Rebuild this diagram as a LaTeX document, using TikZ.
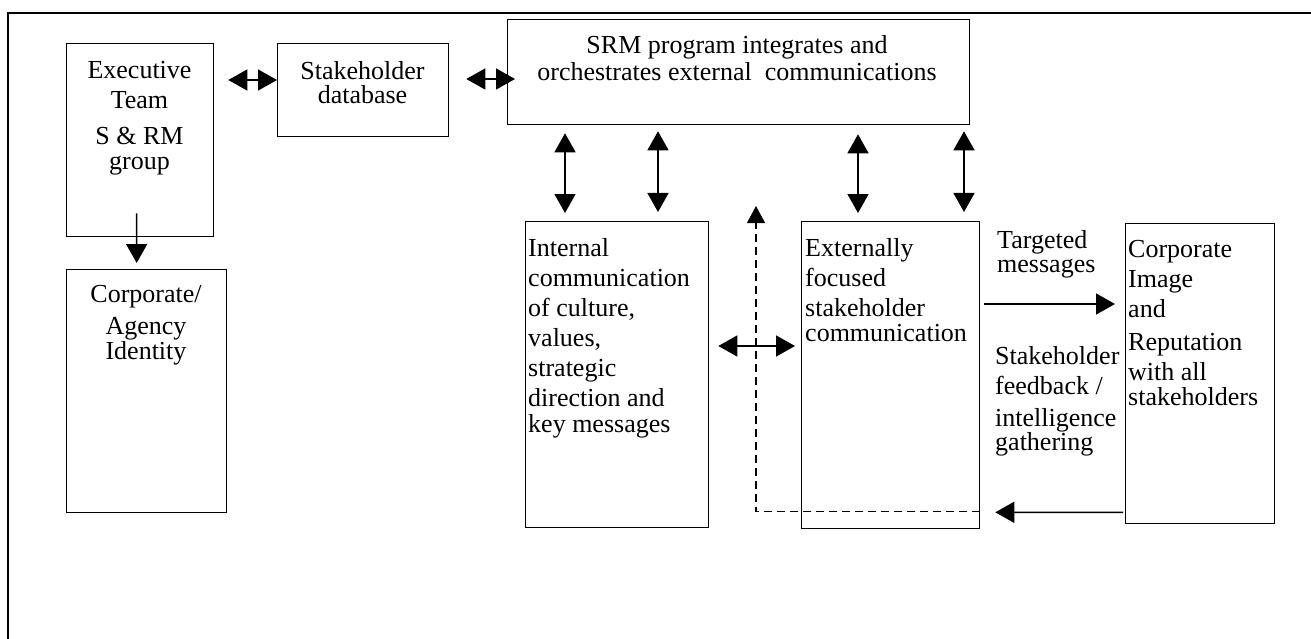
\documentclass[tikz,border=0pt]{standalone}
\usepackage{fontspec}
\setmainfont{Liberation Serif}
\usetikzlibrary{arrows.meta}
\tikzset{
  box/.style={draw, line width=1.3bp, inner sep=0pt, anchor=north west},
  txt/.style={inner sep=0pt, font=\fontsize{26bp}{30bp}\selectfont},
  tipT/.tip={Triangle[length=19bp,width=21bp]},
  dbl/.style={line width=1.5bp, tipT-tipT},
  sgl/.style={line width=1.5bp, -tipT},
  dsh/.style={line width=1.3bp, dash pattern=on 8bp off 5bp, -{Triangle[length=17bp,width=18bp]}}
}
\begin{document}
\begin{tikzpicture}[x=1bp,y=-1bp]
\useasboundingbox (0,0) rectangle (1311,639);
% outer frame (top and left only)
\draw[line width=2bp] (8,639) -- (8,13) -- (1311,13);
% boxes
\node[box, minimum width=147bp, minimum height=193bp] (exec) at (66,43) {};
\node[box, minimum width=160bp, minimum height=243bp] (corp) at (66,269) {};
\node[box, minimum width=171bp, minimum height=93bp] (db) at (277,43) {};
\node[box, minimum width=462bp, minimum height=105bp] (srm) at (507,19) {};
\node[box, minimum width=183bp, minimum height=306bp] (int) at (525,221) {};
\node[box, minimum width=178bp, minimum height=307bp] (ext) at (801,221) {};
\node[box, minimum width=149bp, minimum height=300bp] (img) at (1125,223) {};
% texts
\node[txt, anchor=north, align=center] (exect) at (139.5,61) {Executive\\Team\\[6bp]S \& RM\\[-5bp]group};
\node[txt, anchor=north, align=center] (corpt) at (146,285) {Corporate/\\[2bp]Agency\\[-5bp]Identity};
\node[txt, anchor=north, align=center] (dbt) at (362.5,61) {Stakeholder\\[-6bp]database};
\node[txt, anchor=north, align=center] (srmt) at (737,35) {SRM program integrates and\\[-3bp]orchestrates external~ communications};
\node[txt, anchor=north west, align=left] (intt) at (528,238) {Internal\\communication\\of culture,\\values,\\strategic\\direction and\\[-4bp]key messages};
\node[txt, anchor=north west, align=left] (extt) at (805,238) {Externally\\focused\\stakeholder\\[-5bp]communication};
\node[txt, anchor=north west, align=left] (imgt) at (1128,240) {Corporate\\Image\\and\\[3bp]Reputation\\with all\\[-5bp]stakeholders};
\node[txt, anchor=north west, align=left] (tgt) at (997,230) {Targeted\\[-6bp]messages};
\node[txt, anchor=north west, align=left] (fbt) at (995,346) {Stakeholder\\feedback /\\[2bp]intelligence\\[-6bp]gathering};
% connectors
\draw[sgl] ([shift={(-3.5,-24)}]exec.south) -- ([shift={(-10,-6)}]corp.north);
\draw[dbl] ([shift={(14,37)}]exec.north east) -- ([shift={(0,37)}]db.north west);
\draw[dbl] ([shift={(17,36)}]db.north east) -- ([shift={(8,60)}]srm.north west);
\draw[dbl] ([shift={(58,8)}]srm.south west) -- ([shift={(40,-8)}]int.north west);
\draw[dbl] ([shift={(151,6)}]srm.south west) -- ([shift={(133,-9)}]int.north west);
\draw[dbl] ([shift={(351,9)}]srm.south west) -- ([shift={(57,-8)}]ext.north west);
\draw[dbl] ([shift={(457,6)}]srm.south west) -- ([shift={(163,-9)}]ext.north west);
\draw[dbl] ([shift={(9,125)}]int.north east) -- ([shift={(-6,125)}]ext.north west);
\draw[sgl] ([shift={(4,83)}]ext.north east) -- ([shift={(-10,81)}]img.north west);
\draw[sgl] ([shift={(-2,-12)}]img.south west) -- ([shift={(15,-17)}]ext.south east);
\draw[dsh] ([shift={(0,-18)}]ext.south east) -| ([shift={(-45,-15)}]ext.north west);
\end{tikzpicture}
\end{document}
